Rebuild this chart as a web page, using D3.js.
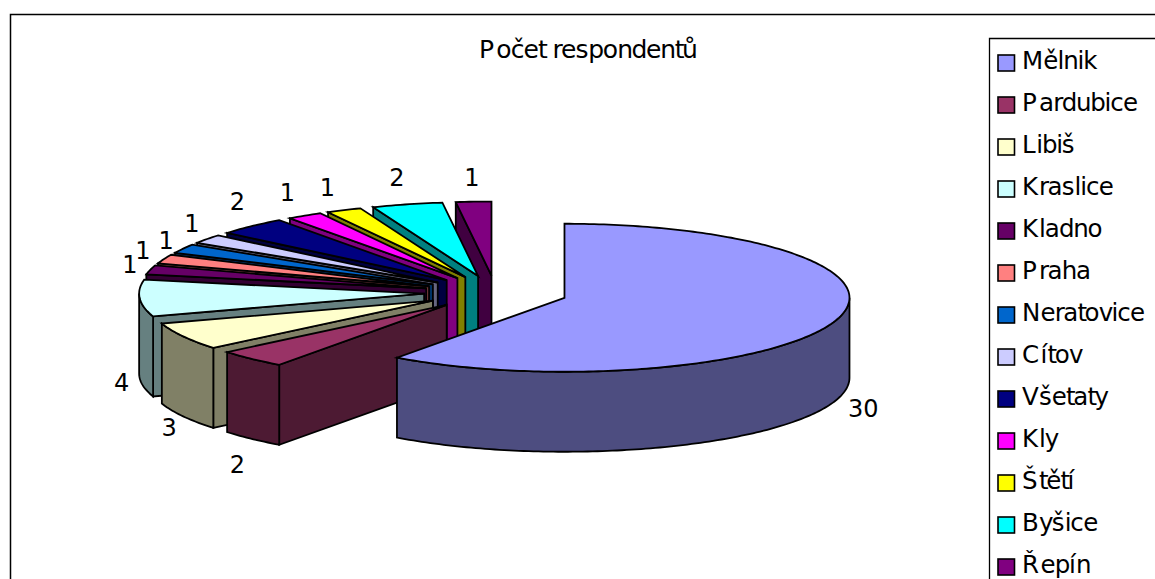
<!DOCTYPE html>
<html>
<head>
<meta charset="utf-8">
<script src="https://cdn.jsdelivr.net/npm/d3@7"></script>
<style>
html,body{margin:0;padding:0;background:#fff;overflow:hidden}
svg{display:block}
text{font-family:"DejaVu Sans",sans-serif;fill:#000}
</style>
</head>
<body>
<svg id="c" width="1155" height="579"></svg>
<script>
const chartTitle = "Počet respondentů";
const categories = ["Mělnik","Pardubice","Libiš","Kraslice","Kladno","Praha","Neratovice","Cítov","Všetaty","Kly","Štětí","Byšice","Řepín"];
const values = [30,2,3,4,1,1,1,1,2,1,1,2,1];
const colors = ["#9999FF","#993366","#FFFFCC","#CCFFFF","#660066","#FF8080","#0066CC","#CCCCFF","#000080","#FF00FF","#FFFF00","#00FFFF","#800080"];

const W = 1155, H = 579;
const base = {x:496, y:292.5}, explode = {x:72, y:17};
const rx = 285, ry = 74, depth = 80;
const FS = 24;
const svg = d3.select("#c");
const TAU = Math.PI*2;

// Glyphs are DejaVu Sans, spaced with the advances of an Arial-metric font
const ctx = document.createElement("canvas").getContext("2d");
function spaced(sel, str, x0, advSize){
  ctx.font = advSize + 'px "Liberation Sans"';
  ctx.fontKerning = "none";
  const chars = Array.from(str);
  let s = 0; const xs = [];
  chars.forEach(ch => { xs.push((x0+s).toFixed(2)); s += ctx.measureText(ch).width; });
  sel.attr("x", xs.join(" ")).text(str);
  return sel;
}

// outer frame (runs off the right and bottom of the picture)
const frame = d3.line();
svg.append("path").attr("d", frame([[10.5,H+5],[10.5,14.5],[W+5,14.5]])).attr("fill","none").attr("stroke","#000").attr("stroke-width",1.5);
svg.append("path").attr("d", frame([[989.5,H+5],[989.5,38.5],[W+5,38.5]])).attr("fill","none").attr("stroke","#000").attr("stroke-width",1.3);

// title
spaced(svg.append("text").attr("y",58).attr("font-size",25), chartTitle, 479, 25.9);

const arcs = d3.pie().sort(null).startAngle(0).endAngle(TAU)(values);
const line = d3.line();

function slicePoint(c, a){ return [c.x + rx*Math.sin(a), c.y - ry*Math.cos(a)]; }
function down(p){ return [p[0], p[1]+depth]; }
function arcPts(c, a0, a1){
  const n = Math.max(2, Math.ceil((a1-a0)/(TAU/360)));
  return d3.range(n+1).map(i => slicePoint(c, a0+(a1-a0)*i/n));
}
function shade(col){ const k = d3.rgb(col); return d3.rgb(k.r*.5,k.g*.5,k.b*.5).formatHex(); }

const g = svg.append("g").attr("stroke","#000").attr("stroke-width",1.8).attr("stroke-linejoin","miter");

// painter's order: back slices first, Mělnik last
const order = d3.range(values.length).slice(1).reverse().concat([0]);
order.forEach(i => {
  const d = arcs[i], col = colors[i], dk = shade(col);
  const bis = (d.startAngle+d.endAngle)/2;
  const c = {x: base.x + explode.x*Math.sin(bis), y: base.y - explode.y*Math.cos(bis)};
  d.c = c; d.bis = bis;
  const apex = [c.x,c.y];
  const a0 = d.startAngle, a1 = d.endAngle;
  if (a0 >= Math.PI - 1e-6) {
    const p = slicePoint(c,a0);
    g.append("path").attr("d", line([apex,p,down(p),down(apex)])+"Z").attr("fill",dk);
  }
  const w0 = Math.max(a0, Math.PI/2), w1 = Math.min(a1, Math.PI*1.5);
  if (w1 > w0) {
    const top = arcPts(c,w0,w1);
    g.append("path").attr("d", line(top.concat(top.slice().reverse().map(down)))+"Z").attr("fill",dk);
  }
  g.append("path").attr("d", line([apex].concat(arcPts(c,a0,a1)))+"Z").attr("fill",col);
});

// data labels
const labelDx = 25, labelDy = 26;
const labelNudge = [[4,0],[3,7],[8,-1],[7,3],[4,1],[2,1],[5,4],[5,0],[3,-6],[-4,-1],[-6,1],[-4,-2],[0,2]];
arcs.forEach((d,i) => {
  const front = d.bis > Math.PI/2 && d.bis < Math.PI*1.5;
  const p = slicePoint(d.c, d.bis);
  svg.append("text")
    .attr("x", p[0] + labelDx*Math.sin(d.bis) + labelNudge[i][0])
    .attr("y", p[1] - labelDy*Math.cos(d.bis) + (front?depth:0) + 8.5 + labelNudge[i][1])
    .attr("text-anchor","middle").attr("font-size",FS).text(values[i]);
});

// legend
const rowY = d3.scalePoint().domain(categories).range([60,564]);
categories.forEach((name,i) => {
  const y = rowY(name);
  svg.append("rect").attr("x",998).attr("y",y-5).attr("width",16.5).attr("height",16)
     .attr("fill",colors[i]).attr("stroke","#000").attr("stroke-width",1.6);
  spaced(svg.append("text").attr("y",y+9).attr("font-size",24.5), name, 1022, 25.6);
});
</script>
</body>
</html>
